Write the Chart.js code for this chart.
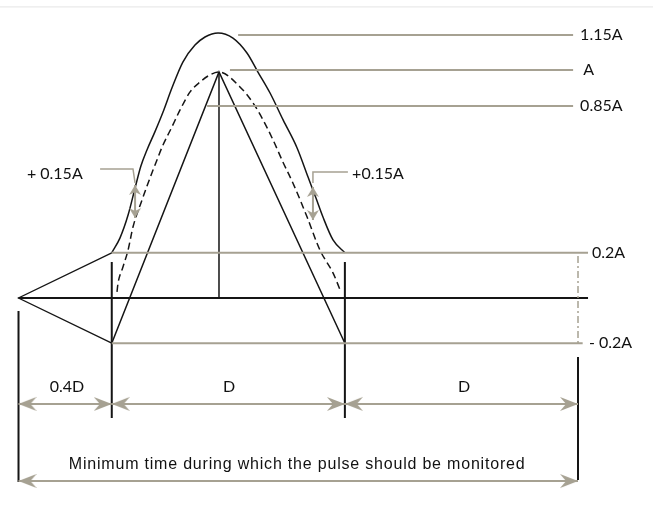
<!DOCTYPE html>
<html>
<head>
<meta charset="utf-8">
<script src="https://cdn.jsdelivr.net/npm/chart.js@4.4.1/dist/chart.umd.min.js"></script>
<style>
  html, body { margin: 0; padding: 0; background: #fff; }
  #wrap { width: 653px; height: 506px; }
</style>
</head>
<body>
<div id="wrap"><canvas id="pulse" width="653" height="506"></canvas></div>
<script>
// Pulse monitoring diagram: time in units of D, amplitude in units of A

// upper tolerance envelope (+0.15A)
const outerX = [0.40, 0.435, 0.47, 0.50, 0.525, 0.551, 0.585, 0.62, 0.658, 0.705, 0.757, 0.80, 0.856,
                0.92, 0.98, 1.027, 1.079, 1.135, 1.195, 1.242, 1.276, 1.306, 1.349, 1.40];
const outerY = [0.20, 0.265, 0.367, 0.487, 0.584, 0.655, 0.735, 0.823, 0.929, 1.044, 1.119, 1.155, 1.173,
                1.15, 1.084, 1.0, 0.907, 0.788, 0.664, 0.535, 0.442, 0.358, 0.257, 0.20];

// nominal pulse (dashed)
const pulseX = [0.4225, 0.427, 0.448, 0.47, 0.491, 0.53, 0.556, 0.577, 0.594, 0.616, 0.658, 0.693, 0.736,
                0.779, 0.821, 0.86, 0.95, 1.006, 1.049, 1.092, 1.134, 1.177, 1.238, 1.293, 1.349, 1.383];
const pulseY = [0.027, 0.066, 0.137, 0.212, 0.314, 0.434, 0.509, 0.566, 0.611, 0.668, 0.757, 0.832, 0.912,
                0.956, 0.987, 1.0, 0.934, 0.863, 0.788, 0.699, 0.602, 0.509, 0.358, 0.212, 0.111, 0.027];

// lower limit triangle and lead-in wedge
const innerX = [0.4, 0.86, 1.4];
const innerY = [-0.2, 1.0, -0.2];
const wedgeX = [0.4, 0, 0.4];
const wedgeY = [0.2, 0, -0.2];
const peakX = 0.86;
const axisEnd = 2.443;

// reference levels
const levelNames = ['1.15A', 'A', '0.85A', '0.2A', '- 0.2A'];
const levelValues = [1.164, 1.009, 0.85, 0.2, -0.2];
const levelFrom = [0.942, 0.907, 0.809, 0.4, 0.4];
const levelTo = [2.379, 2.379, 2.379, 2.443, 2.42];
const levelLabelX = [2.409, 2.422, 2.409, 2.46, 2.447];

// time marks and spans
const timeMarks = [0, 0.4, 1.4, 2.4];
const spanNames = ['0.4D', 'D', 'D'];
const spanCentres = [0.208, 0.903, 1.911];
const spanLevel = -0.469;
const totalLevel = -0.81;
const caption = 'Minimum time during which the pulse should be monitored';

// +0.15A tolerance markers
const tolNames = ['+ 0.15A', '+0.15A'];
const tolLabelX = [0.036, 1.431];
const tolX = [0.50, 1.263];
const tolTop = [0.5, 0.491];
const tolBottom = [0.354, 0.345];

const ink = '#151515';
const grey = 'rgb(166,161,146)';
const pts = (xs, ys) => xs.map((x, i) => ({ x: x, y: ys[i] }));

function line(xs, ys, color, width, extra) {
    return Object.assign({
        data: pts(xs, ys),
        showLine: true,
        borderColor: color,
        borderWidth: width,
        pointRadius: 0,
        fill: false,
        tension: 0
    }, extra || {});
}

// arrow head images, pointing right, tip at the image centre
function makeHead(len, half, notch) {
    const c = document.createElement('canvas');
    c.width = len * 2;
    c.height = half * 2 + 2;
    const g = c.getContext('2d');
    const cy = c.height / 2;
    g.fillStyle = grey;
    g.beginPath();
    g.moveTo(len, cy);
    g.lineTo(0, cy - half);
    g.lineTo(notch, cy);
    g.lineTo(0, cy + half);
    g.closePath();
    g.fill();
    return c;
}
const bigHead = makeHead(18, 7, 6);
const smallHead = makeHead(10, 6, 3);

function arrow(x0, x1, yv) {
    return line([x0, x1], [yv, yv], grey, 2, {
        pointRadius: 3, pointStyle: bigHead, pointRotation: [180, 0]
    });
}

const datasets = [];
// faint frame line at the top
datasets.push(line([-0.08, 2.73], [1.288, 1.288], '#e4e4e4', 1));
// reference levels
levelValues.forEach((v, i) => datasets.push(line([levelFrom[i], levelTo[i]], [v, v], grey, 2)));
// tolerance leaders and double arrows
datasets.push(line([0.35, 0.491, tolX[0]], [0.571, 0.571, 0.509], grey, 1.5));
datasets.push(line([tolX[1], tolX[1], 1.413], [0.509, 0.558, 0.558], grey, 1.5));
tolX.forEach((x, i) => datasets.push(line([x, x], [tolTop[i], tolBottom[i]], grey, 2, {
    pointRadius: 3, pointStyle: smallHead, pointRotation: [-90, 90]
})));
// dimension arrows
for (let i = 0; i < timeMarks.length - 1; i++) {
    datasets.push(arrow(timeMarks[i], timeMarks[i + 1], spanLevel));
}
datasets.push(arrow(timeMarks[0], timeMarks[3], totalLevel));
// dash-dot guide at the end of the window
datasets.push(line([2.4, 2.4], [0.186, -0.212], grey, 1.5, { borderDash: [7, 3, 2, 3] }));
// extension lines
datasets.push(line([0.4, 0.4], [0.159, -0.531], ink, 2));
datasets.push(line([1.4, 1.4], [0.159, -0.531], ink, 2));
datasets.push(line([0, 0], [-0.058, -0.814], ink, 2));
datasets.push(line([2.4, 2.4], [-0.261, -0.805], ink, 2));
// pulse shapes
datasets.push(line(wedgeX, wedgeY, ink, 1.3));
datasets.push(line(innerX, innerY, ink, 1.5));
datasets.push(line(outerX, outerY, ink, 1.5, { cubicInterpolationMode: 'monotone' }));
datasets.push(line(pulseX, pulseY, ink, 1.5, { borderDash: [7, 4], cubicInterpolationMode: 'monotone' }));
datasets.push(line([peakX, peakX], [1.0, 0], ink, 1.5));
// time axis
datasets.push(line([0, axisEnd], [0, 0], ink, 2));

const background = {
    id: 'background',
    beforeDraw(chart) {
        const ctx = chart.ctx;
        ctx.save();
        ctx.fillStyle = '#fff';
        ctx.fillRect(0, 0, chart.width, chart.height);
        ctx.restore();
    }
};

const diagramText = {
    id: 'diagramText',
    afterDatasetsDraw(chart) {
        const ctx = chart.ctx;
        const sx = chart.scales.x;
        const sy = chart.scales.y;
        ctx.save();
        ctx.fillStyle = '#111';
        ctx.textBaseline = 'middle';
        ctx.font = '16px Lato, "DejaVu Sans", sans-serif';
        ctx.textAlign = 'left';
        levelNames.forEach((t, i) => {
            ctx.fillText(t, sx.getPixelForValue(levelLabelX[i]), sy.getPixelForValue(levelValues[i]));
        });
        tolNames.forEach((t, i) => {
            ctx.fillText(t, sx.getPixelForValue(tolLabelX[i]), sy.getPixelForValue(0.549));
        });
        ctx.textAlign = 'center';
        spanNames.forEach((t, i) => {
            ctx.fillText(t, sx.getPixelForValue(spanCentres[i]), sy.getPixelForValue(-0.394));
        });
        ctx.font = '16px "Liberation Sans", Arial, sans-serif';
        ctx.letterSpacing = '0.8px';
        ctx.fillText(caption, sx.getPixelForValue(1.195), sy.getPixelForValue(-0.735));
        ctx.restore();
    }
};

new Chart(document.getElementById('pulse'), {
    type: 'scatter',
    data: { datasets: datasets },
    options: {
        responsive: false,
        animation: false,
        devicePixelRatio: 1,
        events: [],
        layout: { padding: 0, autoPadding: false },
        plugins: {
            legend: { display: false },
            tooltip: { enabled: false }
        },
        scales: {
            x: { type: 'linear', display: false, min: -0.0794, max: 2.7217 },
            y: { type: 'linear', display: false, min: -0.9204, max: 1.3186 }
        }
    },
    plugins: [background, diagramText]
});
</script>
</body>
</html>
